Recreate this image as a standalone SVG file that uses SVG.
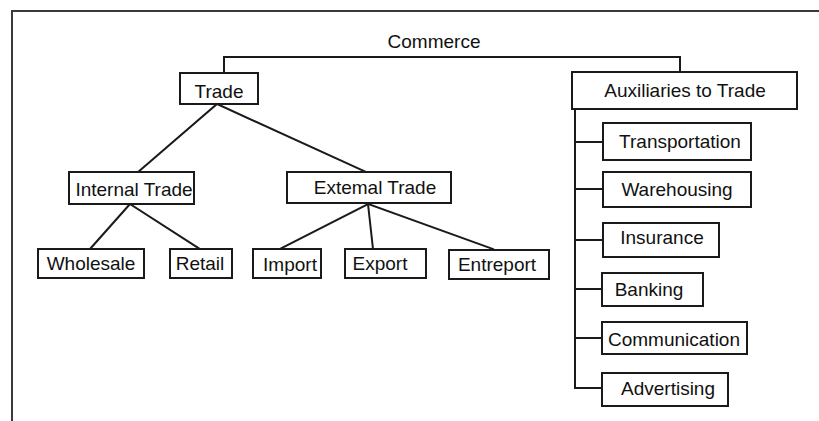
<svg xmlns="http://www.w3.org/2000/svg" width="819" height="421" viewBox="0 0 819 421">
  <style>
    .frame { stroke: #3a3a3a; stroke-width: 2; fill: none; }
    .box { fill: #ffffff; stroke: #1a1a1a; stroke-width: 2; }
    .link { stroke: #1a1a1a; stroke-width: 2; fill: none; stroke-linecap: square; }
    text { font-family: "Liberation Sans", Arial, sans-serif; font-size: 19px; fill: #111111; }
  </style>

  <!-- open frame: top and left edges only -->
  <path class="frame" d="M12 421 V11 H819"/>

  <!-- connectors -->
  <g id="connectors">
    <path class="link" d="M224 72 V57 H680 V72"/>
    <path class="link" d="M217 104 L138 172"/>
    <path class="link" d="M217 104 L366 172"/>
    <path class="link" d="M130 204 L90 249"/>
    <path class="link" d="M130 204 L200 249"/>
    <path class="link" d="M368 204 L280 249"/>
    <path class="link" d="M368 204 L373 249"/>
    <path class="link" d="M368 204 L493 249"/>
    <path class="link" d="M575 109 V388"/>
    <path class="link" d="M575 142 H603"/>
    <path class="link" d="M575 189 H603"/>
    <path class="link" d="M575 240 H603"/>
    <path class="link" d="M575 289 H602"/>
    <path class="link" d="M575 338 H602"/>
    <path class="link" d="M575 388 H602"/>
  </g>

  <g id="commerce">
    <text x="434" y="48" text-anchor="middle">Commerce</text>
  </g>

  <g id="trade">
    <rect class="box" x="180" y="73" width="78" height="31"/>
    <text x="219" y="98" text-anchor="middle">Trade</text>
  </g>

  <g id="auxiliaries">
    <rect class="box" x="572" y="72" width="225" height="37"/>
    <text x="685" y="97" text-anchor="middle">Auxiliaries to Trade</text>
  </g>

  <g id="internal-trade">
    <rect class="box" x="69" y="172" width="125" height="32"/>
    <text x="134" y="196" text-anchor="middle">Internal Trade</text>
  </g>

  <g id="external-trade">
    <rect class="box" x="287" y="172" width="164" height="31"/>
    <text x="375" y="194" text-anchor="middle">Extemal Trade</text>
  </g>

  <g id="wholesale">
    <rect class="box" x="38" y="249" width="106" height="29"/>
    <text x="91" y="270" text-anchor="middle">Wholesale</text>
  </g>

  <g id="retail">
    <rect class="box" x="170" y="249" width="62" height="29"/>
    <text x="200" y="270" text-anchor="middle">Retail</text>
  </g>

  <g id="import">
    <rect class="box" x="253" y="249" width="68" height="29"/>
    <text x="290" y="271" text-anchor="middle">Import</text>
  </g>

  <g id="export">
    <rect class="box" x="345" y="249" width="81" height="29"/>
    <text x="380" y="270" text-anchor="middle">Export</text>
  </g>

  <g id="entreport">
    <rect class="box" x="449" y="250" width="100" height="29"/>
    <text x="497" y="271" text-anchor="middle">Entreport</text>
  </g>

  <g id="transportation">
    <rect class="box" x="603" y="123" width="148" height="37"/>
    <text x="680" y="148" text-anchor="middle">Transportation</text>
  </g>

  <g id="warehousing">
    <rect class="box" x="603" y="172" width="148" height="35"/>
    <text x="677" y="196" text-anchor="middle">Warehousing</text>
  </g>

  <g id="insurance">
    <rect class="box" x="603" y="223" width="116" height="34"/>
    <text x="662" y="244" text-anchor="middle">Insurance</text>
  </g>

  <g id="banking">
    <rect class="box" x="602" y="273" width="101" height="33"/>
    <text x="649" y="296" text-anchor="middle">Banking</text>
  </g>

  <g id="communication">
    <rect class="box" x="602" y="322" width="145" height="32"/>
    <text x="674" y="346" text-anchor="middle">Communication</text>
  </g>

  <g id="advertising">
    <rect class="box" x="602" y="373" width="126" height="33"/>
    <text x="668" y="395" text-anchor="middle">Advertising</text>
  </g>
</svg>
